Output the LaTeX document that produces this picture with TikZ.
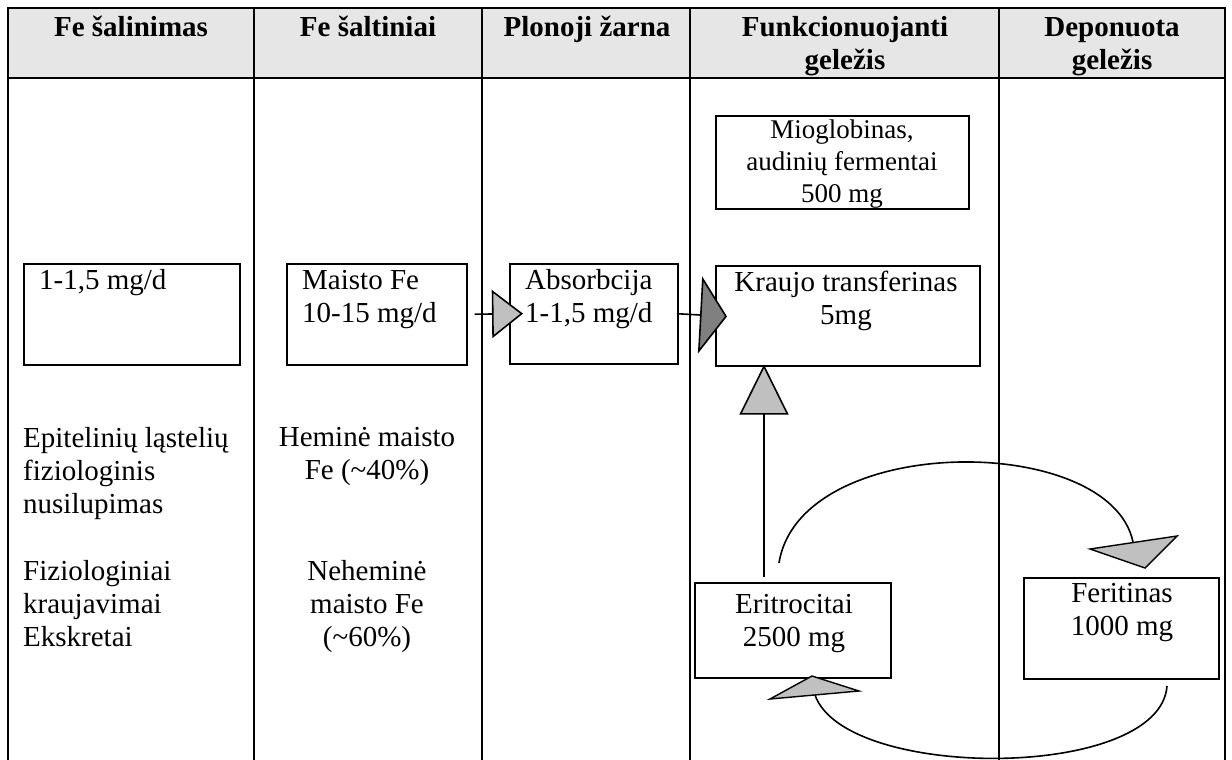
\documentclass[tikz,border=0pt]{standalone}
\usepackage{fontspec}
\setmainfont{Liberation Serif}
\usepackage{xcolor}
\usepackage{tikz}
\usetikzlibrary{arrows.meta}
\definecolor{headgray}{HTML}{E6E6E6}
\definecolor{tiplight}{HTML}{C0C0C0}
\definecolor{tipdark}{HTML}{808080}

\begin{document}
\begin{tikzpicture}[x=1pt, y=-1pt,
  box/.style={draw, line width=1.6pt, anchor=north west, inner sep=0pt},
  txt/.style={font=\fontsize{29}{33}\selectfont, inner sep=0pt, align=left},
  ctxt/.style={txt, align=center},
  head/.style={font=\fontsize{29}{33}\selectfont\bfseries, inner sep=0pt, align=center, anchor=base},
  grid/.style={line width=2.4pt},
  link/.style={line width=1.6pt},
  tri/.style={draw, line width=1.4pt, fill=tiplight, line join=miter}]
\useasboundingbox (0,0) rectangle (1232,760);

% table
\fill[headgray] (8,8) rectangle (1225,78);
\draw[grid] (8,760) -- (8,8) -- (1225,8) -- (1225,760);
\draw[grid] (8,78) -- (1225,78);
\foreach \x in {254,482,690,999}
  \draw[grid] (\x,8) -- (\x,760);

% headers (base = last line)
\node[head] (h1) at (131,37) {Fe šalinimas};
\node[head] (h2) at (368,37) {Fe šaltiniai};
\node[head] (h3) at (587,37) {Plonoji žarna};
\node[head] (h4) at (845,70) {Funkcionuojanti\\geležis};
\node[head] (h5) at (1112,70) {Deponuota\\geležis};

% boxes
\node[box, minimum width=216, minimum height=101] (loss) at (23,263) {};
\node[box, minimum width=180, minimum height=101] (maisto) at (286,263) {};
\node[box, minimum width=168, minimum height=100] (absorb) at (509,263) {};
\node[box, minimum width=264, minimum height=100] (kraujo) at (715,265) {};
\node[box, minimum width=253, minimum height=93] (mio) at (715,115) {};
\node[box, minimum width=196, minimum height=95] (erit) at (694,582) {};
\node[box, minimum width=195, minimum height=101] (ferit) at (1023,577) {};

\node[txt, anchor=base west] (lossval) at (39,289) {1-1,5 mg/d};
\node[txt, anchor=base west] (maistoval) at (302,322) {Maisto Fe\\10-15 mg/d};
\node[txt, anchor=base west] (absorbval) at (525,322) {Absorbcija\\1-1,5 mg/d};
\node[ctxt, anchor=base] (kraujoval) at (846,324) {Kraujo transferinas\\5mg};
\node[ctxt, anchor=base, font=\fontsize{27}{32}\selectfont] (mioval) at (842,202) {Mioglobinas,\\audinių fermentai\\500 mg};
\node[ctxt, anchor=base] (eritval) at (794,646) {Eritrocitai\\2500 mg};
\node[ctxt, anchor=base] (feritval) at (1122,635) {Feritinas\\1000 mg};

% loose text
\node[txt, anchor=base west] (epit) at (23,513) {Epitelinių ląstelių\\fiziologinis\\nusilupimas};
\node[txt, anchor=base west] (bleed) at (23,646) {Fiziologiniai\\kraujavimai\\Ekskretai};
\node[ctxt, anchor=base] (heme) at (367,479) {Heminė maisto\\Fe (\textasciitilde40\%)};
\node[ctxt, anchor=base] (nonheme) at (367,646) {Neheminė\\maisto Fe\\(\textasciitilde60\%)};

% arrows
\draw[link, -{Triangle[length=31pt, width=48pt, fill=tiplight]}, shorten <=7pt, shorten >=-14pt]
  (maisto.east) -- (absorb.west);
\draw[link, -{Triangle[length=27pt, width=77pt, fill=tipdark]}, shorten >=-12pt]
  (absorb.east) -- (kraujo.west);
\draw[link, -{Triangle[length=50pt, width=49pt, fill=tiplight]}, shorten >=-2pt]
  ([xshift=70pt, yshift=5pt]erit.north west) -- ([xshift=49pt]kraujo.south west);

% cycle between erythrocytes and ferritin
\coordinate (upstart) at (779,563);
\coordinate (upend) at (1133,542);
\coordinate (lowstart) at (1167,686);
\coordinate (lowend) at (815,695);
\draw[link] (upstart) .. controls (800,432) and (1110,432) .. (upend);
\draw[link] (lowstart) .. controls (1160,781) and (845,781) .. (lowend);
\filldraw[tri] (1090,549) -- (1177,536) -- (1145,568) -- cycle;
\filldraw[tri] (770,699) -- (812,676) -- (859,691) -- cycle;
\end{tikzpicture}
\end{document}
